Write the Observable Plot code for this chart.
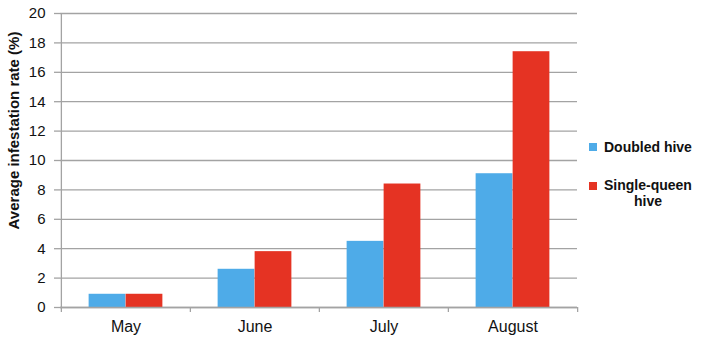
<!DOCTYPE html>
<html>
<head>
<meta charset="utf-8">
<script src="https://cdn.jsdelivr.net/npm/d3@7"></script>
<script src="https://cdn.jsdelivr.net/npm/@observablehq/plot@0.6"></script>
<style>
  body { margin: 0; background: #fff; font-family: "Liberation Sans", Arial, sans-serif; }
  #wrap { position: relative; width: 702px; height: 340px; overflow: hidden; }
  .sq { position: absolute; width: 8px; height: 8px; }
  .lt { position: absolute; font-size: 14px; font-weight: bold; line-height: 16px; color: #111; white-space: nowrap; text-align: center; }
</style>
</head>
<body>
<div id="wrap"></div>
<script>
const months = ["May", "June", "July", "August"];
const doubled = [0.9, 2.6, 4.5, 9.1];
const singleQueen = [0.9, 3.8, 8.4, 17.4];
const seriesNames = ["Doubled hive", "Single-queen hive"];
const seriesColors = ["#4eabe8", "#e53323"];
const yTicks = [0, 2, 4, 6, 8, 10, 12, 14, 16, 18, 20];
const yLabel = "Average infestation rate (%)";

const table = months.map((m, i) => ({ month: m, doubled: doubled[i], single: singleQueen[i] }));

const W = 702, H = 340;
const mL = 60, mR = 125, mT = 13, mB = 33;
const band = (W - mL - mR) / months.length;
const barW = 37;
const gray = "#a3a3a3";

const plot = Plot.plot({
  width: W,
  height: H,
  marginLeft: mL,
  marginRight: mR,
  marginTop: mT,
  marginBottom: mB,
  style: { fontFamily: "Liberation Sans, Arial, sans-serif", color: "#111", background: "transparent" },
  x: { domain: months, padding: 0, label: null },
  y: { domain: [yTicks[0], yTicks[yTicks.length - 1]], label: null },
  marks: [
    Plot.gridY(yTicks, { stroke: gray, strokeOpacity: 1, strokeWidth: 1.3 }),
    Plot.barY(table, { x: "month", y: "doubled", fill: seriesColors[0], insetLeft: band / 2 - barW, insetRight: band / 2 }),
    Plot.barY(table, { x: "month", y: "single", fill: seriesColors[1], insetLeft: band / 2, insetRight: band / 2 - barW }),
    Plot.ruleY([yTicks[0]], { stroke: gray, strokeWidth: 1.3 }),
    Plot.ruleX([months[0]], { dx: -band / 2, stroke: gray, strokeWidth: 1.3 }),
    Plot.ruleX(months, { dx: -band / 2, y1: yTicks[0], y2: yTicks[0], insetBottom: -5, stroke: gray, strokeWidth: 1.3 }),
    Plot.ruleX([months[months.length - 1]], { dx: band / 2, y1: yTicks[0], y2: yTicks[0], insetBottom: -5, stroke: gray, strokeWidth: 1.3 }),
    Plot.axisY(yTicks, { tickSize: 6, tickPadding: 9, fontSize: 15, stroke: gray, strokeWidth: 1.3, fill: "#111", label: null }),
    Plot.axisX({ tickSize: 0, tickPadding: 13, fontSize: 16, fill: "#111", label: null }),
    Plot.text([yLabel], { text: d => d, frameAnchor: "left", textAnchor: "middle", rotate: -90, dx: -46, dy: -30, fontSize: 15, fontWeight: "bold", fill: "#111" })
  ]
});

const wrap = document.getElementById("wrap");
wrap.appendChild(plot);

// Legend (HTML)
const legendPos = [{ sq: 143, t: 139 }, { sq: 182, t: 177 }];
seriesNames.forEach((name, i) => {
  const sq = document.createElement("div");
  sq.className = "sq";
  sq.style.left = "589px";
  sq.style.top = legendPos[i].sq + "px";
  sq.style.background = seriesColors[i];
  wrap.appendChild(sq);
  const t = document.createElement("div");
  t.className = "lt";
  t.style.left = "604px";
  t.style.top = legendPos[i].t + "px";
  const lines = name === "Single-queen hive" ? ["Single-queen", "hive"] : [name];
  lines.forEach(line => {
    const l = document.createElement("div");
    l.textContent = line;
    t.appendChild(l);
  });
  wrap.appendChild(t);
});
</script>
</body>
</html>
